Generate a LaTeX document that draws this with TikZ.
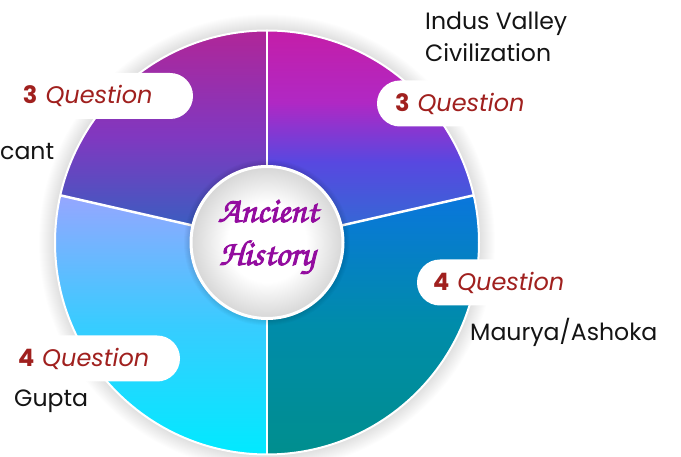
\documentclass[tikz,border=0pt]{standalone}
\usepackage[T1]{fontenc}
\usepackage{fontspec}
\setmainfont{Poppins}
\usetikzlibrary{calc}
\definecolor{qred}{HTML}{A0201E}
\definecolor{titlepurple}{HTML}{930C9F}
\definecolor{inktext}{HTML}{141414}
\pgfdeclareradialshading{centreglow}{\pgfpointorigin}{color(0bp)=(white); color(13bp)=(white); color(25bp)=(black!16); color(50bp)=(black!16)}
\pgfdeclareverticalshading{trwedge}{100bp}{color(0bp)=(rgb,255:red,44;green,112;blue,210); color(25bp)=(rgb,255:red,44;green,112;blue,210); color(44bp)=(rgb,255:red,88;green,72;blue,224); color(58bp)=(rgb,255:red,176;green,40;blue,196); color(75bp)=(rgb,255:red,196;green,30;blue,168); color(100bp)=(rgb,255:red,196;green,30;blue,168)}
\newcommand{\titlefont}{\fontencoding{T1}\fontfamily{pzc}\fontseries{mb}\fontshape{it}\fontsize{36}{36}\selectfont}
\newcommand{\heavy}[1]{\special{pdf:literal direct 2 Tr 0.9 w}#1\special{pdf:literal direct 0 Tr}}
\newcommand{\qtext}[1]{\textbf{#1} \textit{Question}}
\tikzset{
  pill/.style={rectangle, rounded corners=22.9, fill=white, minimum height=46, inner ysep=0,
    text height=16, text depth=0, align=left, text=qred, font=\fontsize{24}{26}\selectfont},
  label/.style={inner sep=0, text=inktext, font=\fontsize{23.6}{26}\selectfont},
  title/.style={inner sep=0, text=titlepurple, font=\titlefont},
  divider/.style={white, line width=2.5},
}
\begin{document}
\begin{tikzpicture}[x=1pt,y=1pt]
\useasboundingbox (0,0) rectangle (681,457);
\fill[white] (0,0) rectangle (681,457);
\coordinate (C) at (267,214.5);
% glow around pie
\foreach \i in {1,...,16}{\fill[black, opacity=0.009] (C) circle ({212+\i});}
% wedges
\shade[shading=trwedge]
  (C) -- ($(C)+(90:212)$) arc[start angle=90, end angle=12.857, radius=212] -- cycle;
\shade[top color={rgb,255:red,10;green,118;blue,220}, bottom color={rgb,255:red,0;green,142;blue,142}, middle color={rgb,255:red,0;green,140;blue,170}]
  (C) -- ($(C)+(12.857:212)$) arc[start angle=12.857, end angle=-90, radius=212] -- cycle;
\shade[top color={rgb,255:red,150;green,166;blue,255}, bottom color={rgb,255:red,0;green,234;blue,255}, middle color={rgb,255:red,56;green,204;blue,255}]
  (C) -- ($(C)+(-90:212)$) arc[start angle=-90, end angle=-192.857, radius=212] -- cycle;
\shade[top color={rgb,255:red,176;green,38;blue,152}, bottom color={rgb,255:red,46;green,100;blue,192}, middle color={rgb,255:red,128;green,56;blue,192}]
  (C) -- ($(C)+(167.143:212)$) arc[start angle=167.143, end angle=90, radius=212] -- cycle;
\draw[white, line width=2] (C) circle (212);
% dividers
\foreach \a in {90,12.857,-90,167.143}{\draw[divider] ($(C)+(\a:74)$) -- ($(C)+(\a:212)$);}
% centre disc
\foreach \i in {1,...,6}{\fill[black, opacity=0.02] (C) circle ({77+\i});}
\shade[shading=centreglow] (C) circle (76);
\draw[white, line width=3] (C) circle (76);
\node[title, anchor=base] (anc) at (268,235) {\heavy{Ancient}};
\node[title, anchor=base] (his) at (267,192) {\heavy{History}};
% question pills
\node[pill, text width=152, inner xsep=18] (q1) at (99,361) {\qtext{3}};
\node[pill, text width=147, inner xsep=18] (q2) at (468.5,353.5) {\qtext{3}};
\node[pill, text width=151, inner xsep=16] (q3) at (508.5,174.5) {\qtext{4}};
\node[pill, text width=144, inner xsep=18] (q4) at (90,98.5) {\qtext{4}};
% era labels
\node[label, anchor=base west] (ivc1) at (425,427) {Indus Valley};
\node[label, anchor=base west] (ivc2) at (425,395) {Civilization};
\node[label, anchor=base west] (cant) at (0,297) {cant};
\node[label, anchor=base west] (maur) at (470,116) {Maurya/Ashoka};
\node[label, anchor=base west] (gupt) at (14,50) {Gupta};
\end{tikzpicture}
\end{document}
